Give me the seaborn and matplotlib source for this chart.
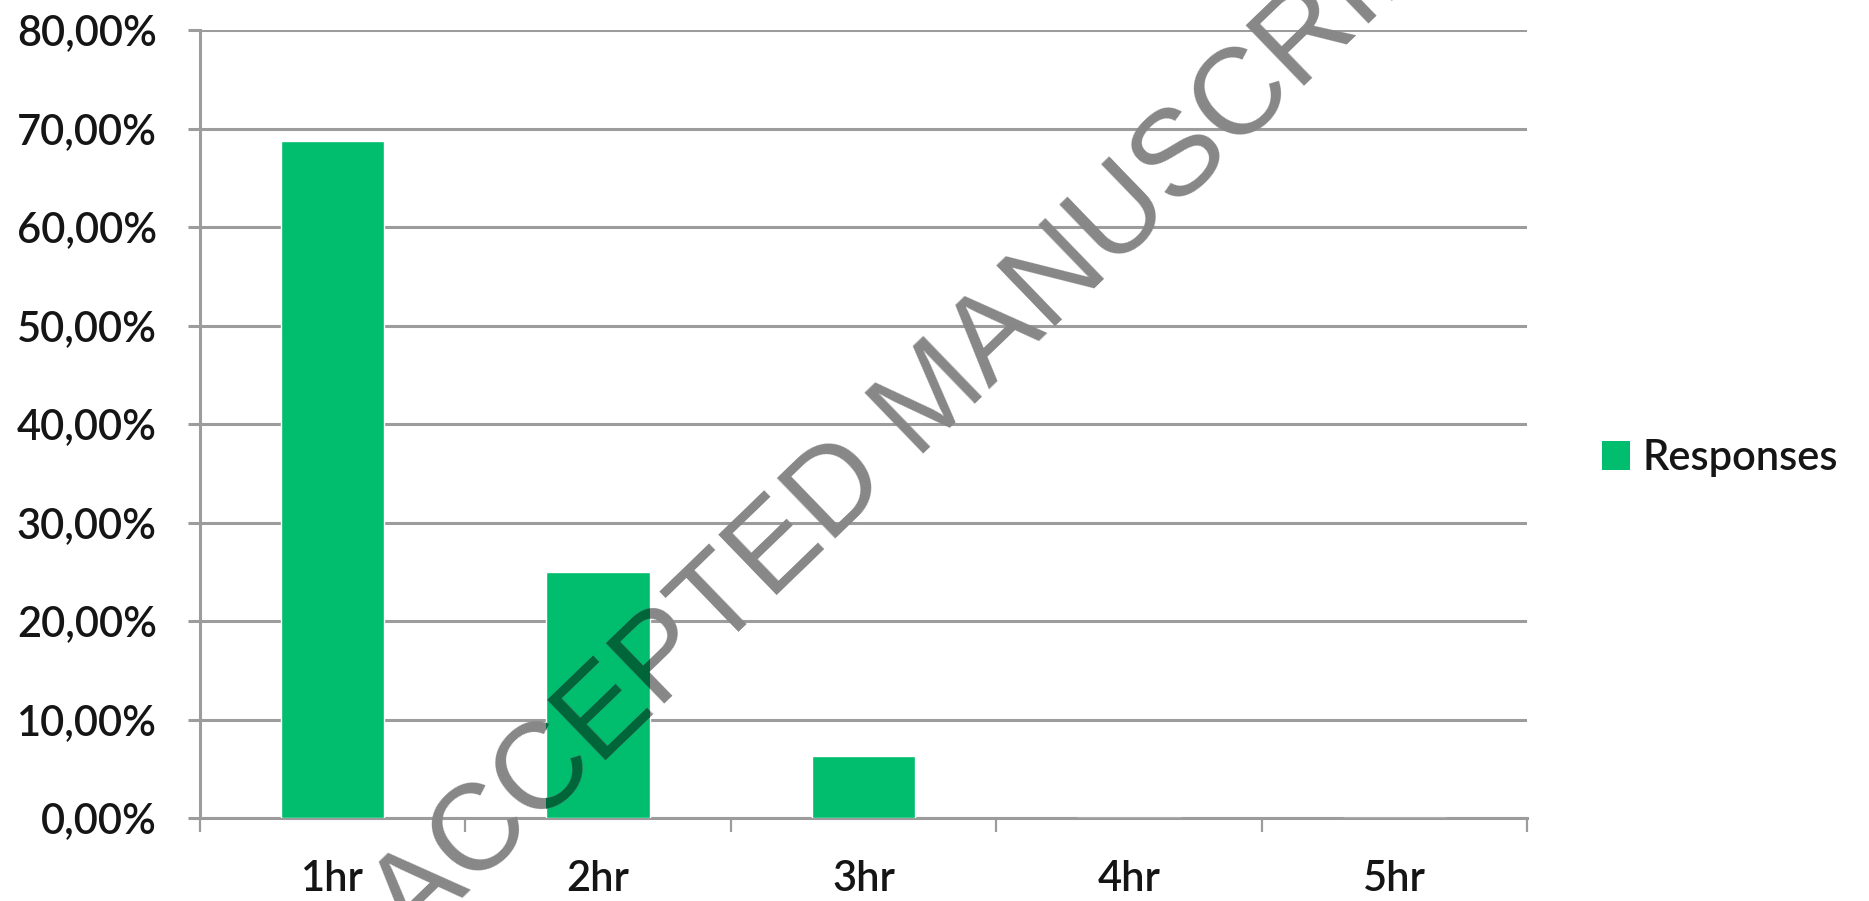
import matplotlib
matplotlib.use("Agg")
import matplotlib.pyplot as plt
from matplotlib.patches import Patch
from matplotlib.ticker import FixedLocator, FuncFormatter
import seaborn as sns
import pandas as pd

# Survey data: share of responses per duration
categories = ["1hr", "2hr", "3hr", "4hr", "5hr"]
responses = [68.75, 25.0, 6.25, 0.0, 0.0]
series_name = "Responses"
y_ticks = [0, 10, 20, 30, 40, 50, 60, 70, 80]

bar_color = "#00BE6E"
grid_color = "#9C9C9C"
text_color = "#151515"
stamp_gray = "#878787"
stamp_on_bar = "#00653A"

sns.set_theme(style="white")
plt.rcParams["font.family"] = ["Lato", "DejaVu Sans"]
plt.rcParams["font.weight"] = "semibold"

df = pd.DataFrame({"duration": categories, "share": responses})

fig = plt.figure(figsize=(18.69, 9.01), dpi=100)
ax = fig.add_axes([0.107, 0.0921, 0.710, 0.8746])

sns.barplot(data=df, x="duration", y="share", color=bar_color,
            width=0.39, saturation=1, ax=ax, zorder=3)

ax.set_xlim(-0.5, len(categories) - 0.5)
ax.set_ylim(0, 80)
ax.set_xlabel("")
ax.set_ylabel("")

# horizontal gridlines and percentage labels
ax.yaxis.set_major_locator(FixedLocator(y_ticks))
ax.yaxis.set_major_formatter(FuncFormatter(lambda v, _: f"{v:.2f}".replace(".", ",") + "%"))
ax.grid(axis="y", color=grid_color, linewidth=2.2, zorder=0)
ax.set_axisbelow(True)

# category ticks between bars
ax.set_xticks([i - 0.5 for i in range(len(categories) + 1)], minor=True)
ax.tick_params(axis="x", which="major", length=0, pad=30,
               labelsize=30, labelcolor=text_color)
ax.tick_params(axis="x", which="minor", length=10, width=1.6,
               color=grid_color, direction="out")
ax.tick_params(axis="y", which="major", length=9, width=2.2,
               color=grid_color, direction="out", pad=22,
               labelsize=30, labelcolor=text_color)
ax.tick_params(left=True, bottom=False)
ax.xaxis.set_tick_params(which="minor", bottom=True)

for side in ("top", "right"):
    ax.spines[side].set_visible(False)
for side in ("left", "bottom"):
    ax.spines[side].set_color(grid_color)
    ax.spines[side].set_linewidth(2.2)

handle = Patch(facecolor=bar_color, edgecolor="none", label=series_name)
ax.legend(handles=[handle], loc="center left",
          bbox_to_anchor=(0.857, 0.4917), bbox_transform=fig.transFigure,
          frameon=False, fontsize=30, handlelength=0.67, handleheight=0.67,
          handletextpad=0.3, borderpad=0, borderaxespad=0,
          labelcolor=text_color)

# diagonal manuscript stamp across the chart; a darker copy is clipped to
# each bar so the stamp reads as if printed over the green
stamp_kw = dict(rotation=44, rotation_mode="anchor", ha="center", va="baseline",
                fontsize=88, fontweight="normal",
                family=["Liberation Sans", "DejaVu Sans"])
stamp_pos = (0.5115, 0.5305)


def stamp(color, z, clip=None):
    t = fig.text(*stamp_pos, "ACCEPTED MANUSCRIPT", color=color, zorder=z,
                 **stamp_kw)
    if clip is not None:
        t.set_clip_path(clip)
    return t


stamp(stamp_gray, 10)
for bar in ax.patches:
    if bar.get_height() > 0:
        stamp(stamp_on_bar, 11, clip=bar)

fig.savefig("out.png", dpi=100)
